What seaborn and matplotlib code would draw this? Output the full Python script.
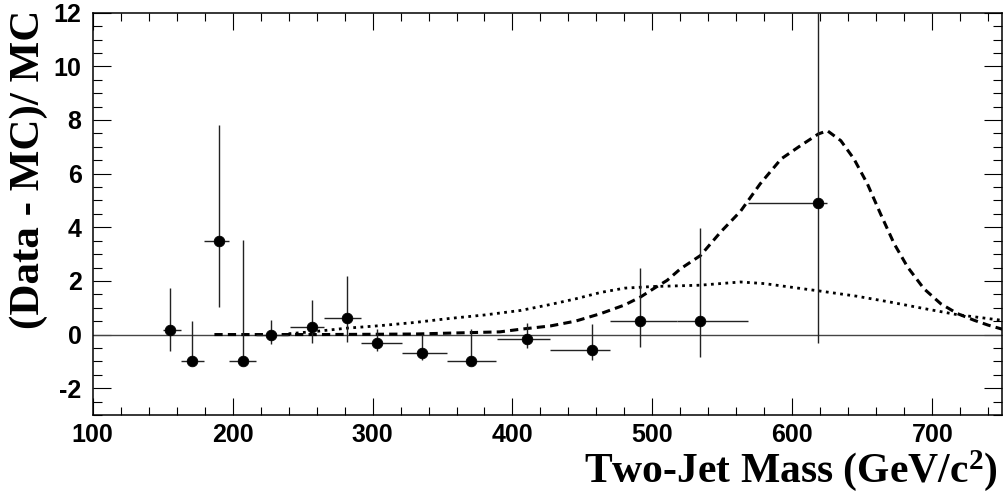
import numpy as np
import seaborn as sns
import matplotlib.pyplot as plt
from matplotlib.ticker import MultipleLocator

# data points: (Data - MC)/MC per two-jet mass bin
mass = [155.2, 171.2, 190.0, 207.4, 227.6, 257.0, 282.0, 303.0, 335.5, 370.5,
        410.3, 457.0, 490.8, 534.3, 618.4]
ratio = [0.18, -1.0, 3.5, -1.0, 0.0, 0.27, 0.62, -0.32, -0.68, -1.0,
         -0.17, -0.58, 0.5, 0.52, 4.92]
ratio_hi = [1.74, 0.51, 7.8, 3.52, 0.55, 1.29, 2.18, 0.21, 0.03, 0.2,
            0.42, 0.38, 2.47, 3.99, 12.5]
ratio_lo = [-0.6, -1.0, 1.04, -1.0, -0.36, -0.33, -0.27, -0.62, -0.94, -1.0,
            -0.52, -0.94, -0.48, -0.84, -0.33]
bin_lo = [150.0, 162.9, 179.7, 197.6, 216.9, 241.0, 265.0, 292.0, 321.0, 353.0,
          389.0, 427.0, 470.0, 517.5, 568.0]
bin_hi = [162.9, 179.7, 197.6, 216.9, 239.7, 265.0, 292.0, 321.0, 353.0, 388.0,
          427.0, 470.0, 517.5, 568.0, 625.0]

# dashed curve
dash_x = [187, 200, 230, 260, 300, 330, 360, 391, 406, 427, 445, 463, 480, 491.5,
          502, 510.5, 520, 534.4, 548.7, 563, 577, 592, 606, 618.6, 625, 634.6,
          644, 653.6, 663, 672.7, 682.3, 694, 706, 718, 730, 740, 750]
dash_y = [0.0, 0.0, 0.0, 0.0, 0.01, 0.02, 0.06, 0.1, 0.2, 0.32, 0.5, 0.78, 1.1, 1.4,
          1.75, 2.02, 2.45, 2.95, 3.82, 4.6, 5.62, 6.55, 7.05, 7.48, 7.6, 7.23,
          6.55, 5.62, 4.5, 3.39, 2.52, 1.71, 1.15, 0.78, 0.53, 0.35, 0.2]

# dotted curve
dot_x = [240, 260, 282, 305, 330, 355, 380, 406, 427, 445, 463, 480, 500, 534,
         563, 580, 600, 620, 646, 670, 694, 718, 750]
dot_y = [0.03, 0.12, 0.24, 0.33, 0.45, 0.6, 0.73, 0.9, 1.12, 1.33, 1.57, 1.73,
         1.79, 1.84, 1.96, 1.9, 1.76, 1.62, 1.43, 1.21, 0.97, 0.74, 0.53]

sns.set_style('ticks')
plt.rcParams['font.family'] = ['Liberation Sans', 'DejaVu Sans']
plt.rcParams['mathtext.default'] = 'regular'
plt.rcParams['axes.unicode_minus'] = False

fig = plt.figure(figsize=(10.06, 4.95), dpi=100)
ax = fig.add_axes([0.0921, 0.1616, 0.9042, 0.8127])

mass = np.array(mass)
ratio = np.array(ratio)

ax.axhline(0, color='#444444', lw=1.0, zorder=1)

sns.lineplot(x=dash_x, y=dash_y, ax=ax, color='black', lw=2.2,
             linestyle=(0, (2.7, 1.7)), zorder=2)
sns.lineplot(x=dot_x, y=dot_y, ax=ax, color='black', lw=2.0,
             linestyle=(0, (1, 1.6)), zorder=2)

# error bars
yerr = [ratio - np.array(ratio_lo), np.array(ratio_hi) - ratio]
xerr = [mass - np.array(bin_lo), np.array(bin_hi) - mass]
ax.errorbar(mass, ratio, xerr=xerr, yerr=yerr, fmt='none',
            ecolor='#222222', elinewidth=1.0, capsize=0, zorder=3)
sns.scatterplot(x=mass, y=ratio, ax=ax, s=58, color='black',
                edgecolor='black', zorder=4)

ax.set_xlim(100, 750)
ax.set_ylim(-3, 12)
ax.xaxis.set_major_locator(MultipleLocator(100))
ax.xaxis.set_minor_locator(MultipleLocator(20))
ax.yaxis.set_major_locator(MultipleLocator(2))
ax.yaxis.set_minor_locator(MultipleLocator(0.5))
ax.tick_params(which='both', direction='in', top=True, right=True,
               width=0.8, color='black', labelcolor='black')
ax.tick_params(axis='x', which='major', length=12, pad=6)
ax.tick_params(axis='x', which='minor', length=6)
ax.tick_params(axis='y', which='major', length=13, pad=8)
ax.tick_params(axis='y', which='minor', length=6.5)
for lab in ax.get_xticklabels() + ax.get_yticklabels():
    lab.set_fontsize(18)
    lab.set_fontweight('bold')
for sp in ax.spines.values():
    sp.set_linewidth(1.1)
    sp.set_color('black')

ax.set_xlabel('')
ax.set_ylabel('')
fig.text(998 / 1006, (495 - 481.7) / 495, r'Two-Jet Mass (GeV/c$^{2}$)',
         ha='right', va='baseline', fontsize=30, fontweight='bold',
         family='Liberation Serif', color='black')
fig.text(28.5 / 1006, 1 - 10 / 495, '(Data - MC)/ MC', rotation=90,
         ha='center', va='top', fontsize=31, fontweight='bold',
         family='Liberation Serif', color='black')

fig.savefig('out.png', dpi=100)
